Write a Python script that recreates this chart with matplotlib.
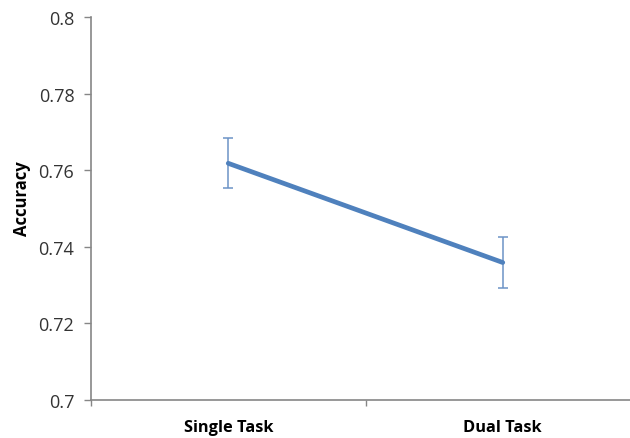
import matplotlib
matplotlib.use("Agg")
import matplotlib.pyplot as plt
import numpy as np

# Mean accuracy per condition with error-bar half widths
conditions = ["Single Task", "Dual Task"]
accuracy = [0.7618, 0.7359]
error = [0.0065, 0.0066]
y_ticks = [0.7, 0.72, 0.74, 0.76, 0.78, 0.8]
y_tick_labels = ["0.7", "0.72", "0.74", "0.76", "0.78", "0.8"]

line_color = "#4F81BD"
axis_color = "#868686"
text_color = "#333333"

plt.rcParams["font.family"] = ["Open Sans", "DejaVu Sans"]

fig = plt.figure(figsize=(6.3, 4.39), dpi=100)
ax = fig.add_axes([91 / 630, 38 / 439, 549 / 630, 383 / 439])

x = np.arange(len(conditions)) + 0.5
ax.errorbar(x, accuracy, yerr=error, color=line_color, lw=3.4,
            ecolor="#6C93C6", elinewidth=1.1, capsize=3.3, capthick=1.1,
            solid_capstyle="round")

ax.set_xlim(0, len(conditions))
ax.set_ylim(0.7, 0.8)

# Category dividers as major ticks, labels centered on minor ticks
ax.set_xticks(np.arange(len(conditions) + 1))
ax.set_xticklabels([])
ax.set_xticks(x, minor=True)
ax.set_xticklabels(conditions, minor=True, fontsize=11.8, fontweight="bold",
                   color="#000000")
ax.tick_params(axis="x", which="minor", length=0, pad=14)
ax.tick_params(axis="x", which="major", length=4, width=1, color=axis_color,
               direction="out")

ax.set_yticks(y_ticks)
ax.set_yticklabels(y_tick_labels, fontsize=13, color=text_color)
ax.tick_params(axis="y", length=5, width=1, color=axis_color, pad=7)

for side in ["top", "right"]:
    ax.spines[side].set_visible(False)
for side in ["left", "bottom"]:
    ax.spines[side].set_color(axis_color)
    ax.spines[side].set_linewidth(1.2)

ax.set_ylabel("Accuracy", fontsize=12, fontweight="bold", color="#000000")
ax.yaxis.set_label_coords((31 - 91) / 549, (401 - 199) / 383)

fig.savefig("out.png", dpi=100, facecolor="white")
